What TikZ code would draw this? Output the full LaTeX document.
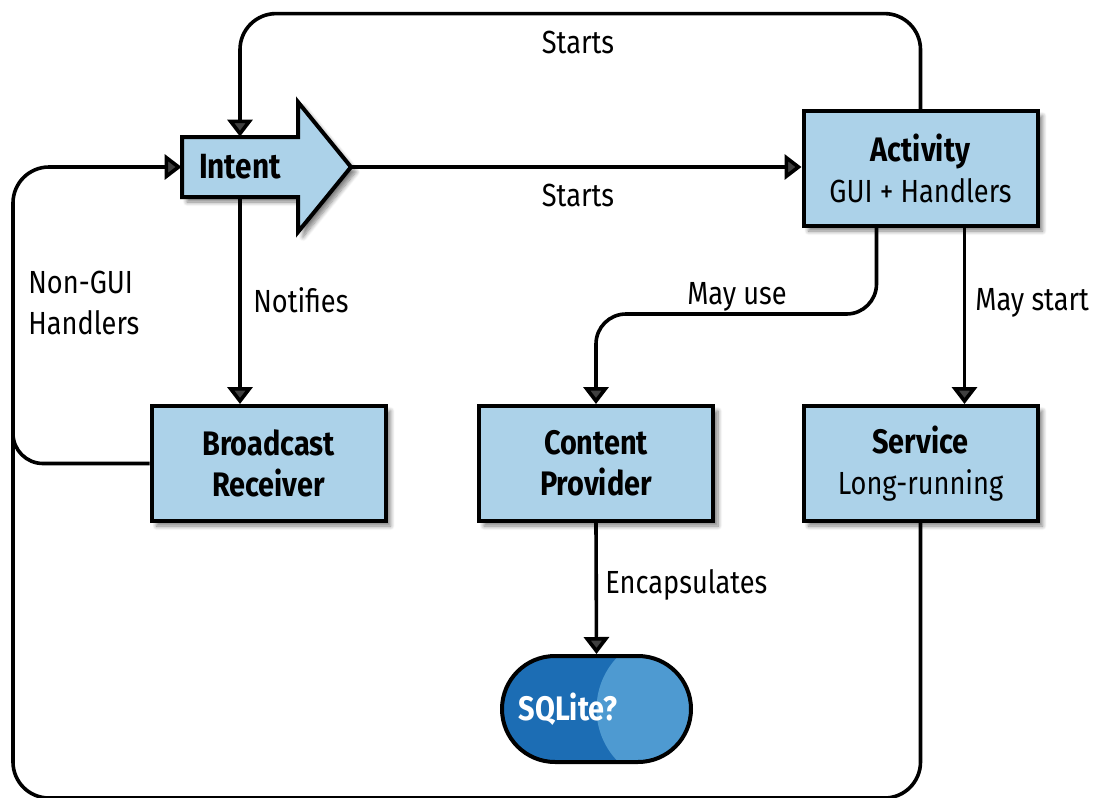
\documentclass[tikz,border=0pt]{standalone}
\usepackage{fontspec}
\setmainfont[FakeStretch=0.85]{Fira Sans}
\usepackage{xcolor}
\usetikzlibrary{shapes, arrows.meta, positioning, calc, shadows.blur}

\definecolor{boxblue}{RGB}{172,210,233}
\definecolor{sqldark}{RGB}{28,109,180}
\definecolor{sqllight}{RGB}{78,154,209}

\begin{document}
\begin{tikzpicture}[x=0.5pt, y=-0.5pt,
            font=\fontsize{16}{20.5}\selectfont,
            shade/.style={blur shadow={shadow xshift=2.5pt, shadow yshift=-2.5pt, shadow blur steps=8, shadow opacity=50}},
            box/.style={draw, line width=2pt, rectangle, fill=boxblue, shade, minimum width=117pt, minimum height=57.5pt, align=center},
            sqlbox/.style={draw, line width=2pt, fill=sqldark, rounded corners=26.5pt, minimum width=94.5pt, minimum height=53pt, text=white, font=\fontsize{17}{20.5}\selectfont\bfseries,
                path picture={\fill[sqllight] ([xshift=37.5pt]path picture bounding box.center) circle (37.5pt);}},
            conn/.style={line width=1.8pt, -{Triangle[length=8.5pt, width=12.5pt]}},
            line/.style={line width=1.8pt},
            lbl/.style={inner sep=0pt}]
            \useasboundingbox (0,0) rectangle (1093,798);

            % intent arrow outline
            \draw[line width=2pt, fill=boxblue, shade] (182,137) -- (298,137) -- (298,102) -- (351,167) -- (298,232) -- (298,197) -- (182,197) -- cycle;
            \node[minimum width=58pt, minimum height=30pt, font=\fontsize{17.5}{20.5}\selectfont\bfseries] (intent) at (240,167) {Intent};
            \coordinate (intenttip) at (351,167);

            \node[box] (activity) at (920.5,168.5) {{\fontsize{17}{20.5}\selectfont\bfseries Activity}\\GUI + Handlers};
            \node[box, font=\fontsize{17}{20.5}\selectfont\bfseries] (broadcast) at (268.5,463.5) {Broadcast\\Receiver};
            \node[box, font=\fontsize{17}{20.5}\selectfont\bfseries] (provider) at (596,463.5) {Content\\Provider};
            \node[box] (service) at (920.5,463.5) {{\fontsize{17}{20.5}\selectfont\bfseries Service}\\Long-running};
            \node[sqlbox] (sqlite) at (596.5,709) {SQLite?\hspace*{28.5pt}};

            \draw[conn, rounded corners=18pt] (activity.north) |- ($(intent.north)+(0,-123)$) -- (intent.north);
            \draw[conn] (intenttip) -- (intenttip -| activity.west);
            \draw[conn] (intent.south) -- (intent.south |- broadcast.north);
            \draw[line, rounded corners=15pt] (broadcast.west) -| (13,400);
            \draw[conn, rounded corners=18pt] (service.south) |- (13,798) |- (intent.west);
            \draw[conn, rounded corners=15pt] ([xshift=-22pt]activity.south) |- ($(provider.north)+(0,-90)$) -- (provider.north);
            \draw[conn] ([xshift=22pt]activity.south) -- ([xshift=22pt]service.north);
            \draw[conn] (provider.south) -- (sqlite.north);

            \node[lbl] (startstop) at (578,42) {Starts};
            \node[lbl] (startsmid) at (578,195) {Starts};
            \node[lbl, anchor=west] (notifies) at (253,300) {Notifies};
            \node[lbl] (mayuse) at (737,297) {May use};
            \node[lbl, anchor=west] (maystart) at (975,303) {May start};
            \node[lbl, anchor=west] (encaps) at (605,585) {Encapsulates};
            \node[lbl, anchor=west, align=left] (nongui) at (28,303) {Non-GUI\\Handlers};
        \end{tikzpicture}
\end{document}
